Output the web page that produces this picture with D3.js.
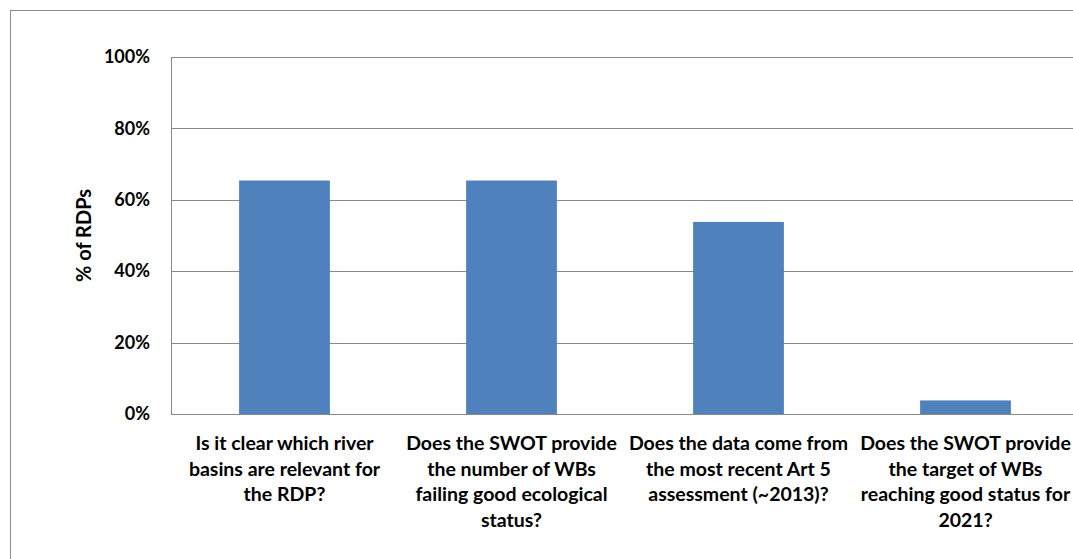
<!DOCTYPE html>
<html><head><meta charset="utf-8">
<script src="https://cdn.jsdelivr.net/npm/d3@7"></script>
<style>body{margin:0;background:#fff}svg{display:block}text{font-family:Lato,"Open Sans",sans-serif;font-weight:bold;fill:#000}</style>
</head><body>
<svg id="c" width="1073" height="559"></svg>
<script>
const categories = [
  "Is it clear which river|basins are relevant for|the RDP?",
  "Does the SWOT provide|the number of WBs|failing good ecological|status?",
  "Does the data come from|the most recent Art 5|assessment (~2013)?",
  "Does the SWOT provide|the target of WBs|reaching good status for|2021?"
];
const values = [0.654, 0.654, 0.538, 0.038];
const yTicks = [0, 0.2, 0.4, 0.6, 0.8, 1.0];
const yTitle = "% of RDPs";

(function(){
const svg = d3.select("#c");
svg.append("rect").attr("x",10.5).attr("y",10.5).attr("width",1100).attr("height",600)
  .attr("fill","none").attr("stroke","#8c8c8c");

const pL = 171, pT = 57, pB = 414, pR = 171 + 908;
const x = d3.scaleBand().domain(categories).range([pL, pR]).paddingInner(0.6).paddingOuter(0.3);
const y = d3.scaleLinear().domain([0,1]).range([pB, pT]);

svg.append("g").selectAll("line").data(yTicks.filter(d=>d>0)).join("line")
  .attr("x1",pL).attr("x2",pR).attr("y1",d=>Math.round(y(d))+0.5).attr("y2",d=>Math.round(y(d))+0.5)
  .attr("stroke","#888").attr("stroke-width",1);

svg.append("g").selectAll("rect").data(values).join("rect")
  .attr("x",(d,i)=>x(categories[i])).attr("width",x.bandwidth())
  .attr("y",d=>y(d)).attr("height",d=>pB - y(d)).attr("fill","#4F81BD");

svg.append("line").attr("x1",pL+0.5).attr("x2",pL+0.5).attr("y1",pT).attr("y2",pB+0.5).attr("stroke","#888");
svg.append("line").attr("x1",pL).attr("x2",pR).attr("y1",pB+0.5).attr("y2",pB+0.5).attr("stroke","#888");

const yAxis = d3.axisLeft(y).tickValues(yTicks).tickFormat(d3.format(".0%")).tickSize(0).tickPadding(21);
const ya = svg.append("g").attr("transform",`translate(${pL},0)`).call(yAxis);
ya.select(".domain").remove();
ya.selectAll("text").style("font-family","Lato, 'Open Sans', sans-serif").style("font-weight","bold").attr("font-size",18).attr("fill","#000");

const xl = svg.append("g");
categories.forEach(c=>{
  const lines = c.split("|");
  const cx = x(c)+x.bandwidth()/2;
  const t = xl.append("text").attr("text-anchor","middle").attr("font-size",19.5).attr("x", cx).attr("y", 450);
  lines.forEach((ln,i)=>t.append("tspan").attr("x", cx).attr("dy", i===0?0:25.5).text(ln));
});

svg.append("text").attr("transform",`translate(91,${(pT+pB)/2}) rotate(-90)`)
  .attr("text-anchor","middle").attr("font-size",20).text(yTitle);
})();
</script>
</body></html>
